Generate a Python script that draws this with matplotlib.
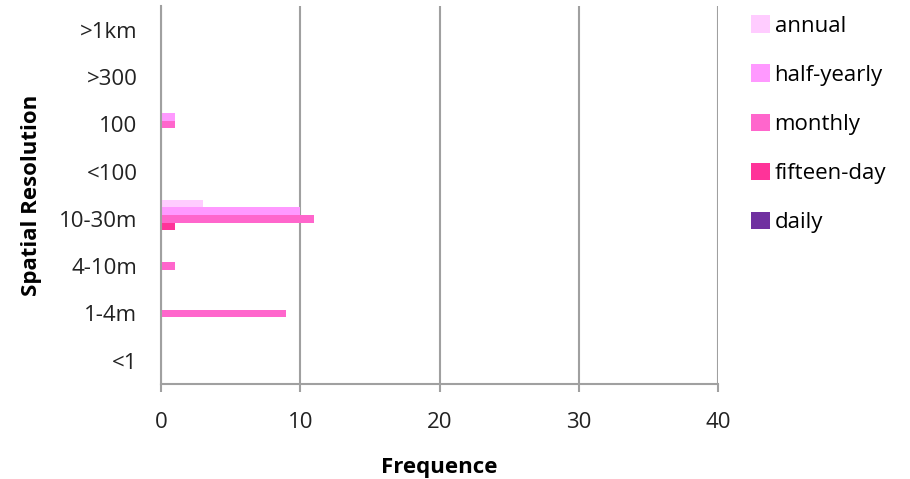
import matplotlib.pyplot as plt
import numpy as np

# data
categories = ['<1', '1-4m', '4-10m', '10-30m', '<100', '100', '>300', '>1km']
series_names = ['daily', 'fifteen-day', 'monthly', 'half-yearly', 'annual']
daily = [0, 0, 0, 0, 0, 0, 0, 0]
fifteen_day = [0, 0, 0, 1, 0, 0, 0, 0]
monthly = [0, 9, 1, 11, 0, 1, 0, 0]
half_yearly = [0, 0, 0, 10, 0, 1, 0, 0]
annual = [0, 0, 0, 3, 0, 0, 0, 0]
colors = ['#7030A0', '#FF3399', '#FF66CC', '#FF99FF', '#FFCCFF']

plt.rcParams['font.family'] = ['Open Sans', 'DejaVu Sans']

fig = plt.figure(figsize=(9.1, 4.79), dpi=100)
ax = fig.add_axes([0.177, 0.198, 0.612, 0.789])

y = np.arange(len(categories))
h = 0.16
all_series = [daily, fifteen_day, monthly, half_yearly, annual]
for i, (vals, name, col) in enumerate(zip(all_series, series_names, colors)):
    ax.barh(y + (i - 2) * h, vals, height=h, color=col, label=name)

ax.set_xlim(0, 40)
ax.set_ylim(-0.5, len(categories) - 0.5)
ax.set_xticks([0, 10, 20, 30, 40])
ax.set_yticks(y)
ax.set_yticklabels(categories)
ax.xaxis.grid(True, color='#A0A0A0', linewidth=1.5)
ax.set_axisbelow(True)

for s in ['top', 'right']:
    ax.spines[s].set_visible(False)
for s in ['left', 'bottom']:
    ax.spines[s].set_color('#A0A0A0')
    ax.spines[s].set_linewidth(1.5)

ax.tick_params(axis='y', length=0, pad=17, labelsize=16, labelcolor='#222222')
ax.tick_params(axis='x', length=6, width=1.5, color='#A0A0A0', pad=14,
               labelsize=16, labelcolor='#222222')

ax.set_xlabel('Frequence', fontsize=16, fontweight='bold', labelpad=17)
ax.set_ylabel('Spatial Resolution', fontsize=16, fontweight='bold', labelpad=12)

handles, labels = ax.get_legend_handles_labels()
fig.legend(handles[::-1], labels[::-1], loc='upper left',
           bbox_to_anchor=(0.818, 0.982), frameon=False, fontsize=16,
           handlelength=0.86, handleheight=0.82, handletextpad=0.2,
           labelspacing=1.25, borderaxespad=0, borderpad=0.3)

fig.savefig('out.png', dpi=100)
